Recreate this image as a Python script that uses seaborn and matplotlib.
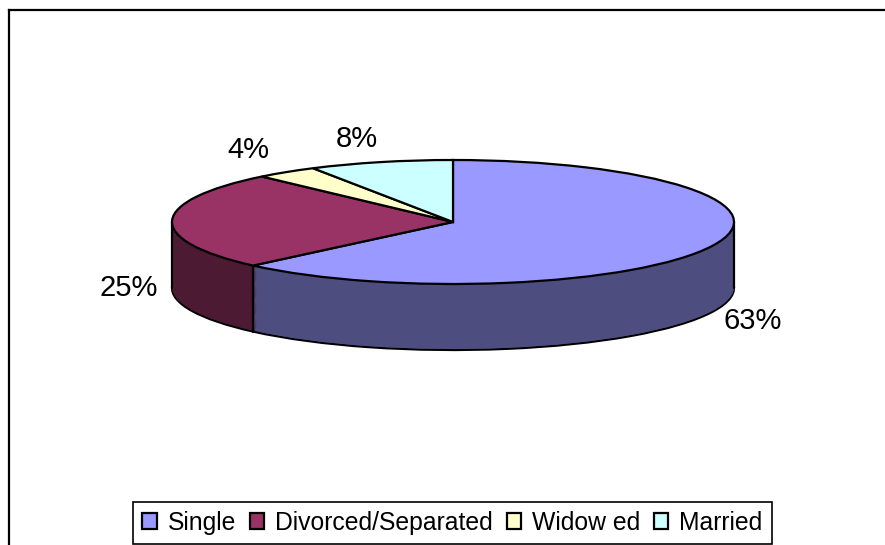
import numpy as np
import matplotlib
matplotlib.use("Agg")
import matplotlib.pyplot as plt
import seaborn as sns

categories = ["Single", "Divorced/Separated", "Widow ed", "Married"]
values = [62.6, 25.5, 3.6, 8.3]
pct_labels = ["63%", "25%", "4%", "8%"]
top_colors = ["#9999FF", "#993366", "#FFFFCC", "#CCFFFF"]
side_colors = ["#4D4D80", "#4D1A33", "#808066", "#668080"]

sns.set_theme(style="white")
plt.rcParams["font.family"] = ["Liberation Sans", "DejaVu Sans"]

W, H = 885, 545
fig = plt.figure(figsize=(W / 100, H / 100), dpi=100)
ax = fig.add_axes([9 / W, 0, (W - 9) / W, 535 / H])

# pie centre and radii in pixels, one data unit is one radius
cx, cy, rx, ry = 453, 222, 281, 62
depth = 66 / ry
n_layers = 70
edge = {"edgecolor": "black", "linewidth": 1.6}

# the wall is a stack of dark pies, only the lowest one has an outline
for i in range(n_layers):
    off = depth * (1 - i / n_layers)
    props = {"zorder": 1 + i * 0.01}
    props.update(edge if i == 0 else {"linewidth": 0})
    ax.pie(values, colors=side_colors, startangle=90, counterclock=False,
           center=(0, -off), wedgeprops=props, normalize=True)

wedges, _ = ax.pie(values, colors=top_colors, startangle=90, counterclock=False,
                   center=(0, 0), wedgeprops={"zorder": 3, **edge})

# vertical wall edges: both sides and the single/divorced split
split = np.deg2rad(90 - 360 * values[0] / sum(values))
for x0, y0 in [(-1, 0), (1, 0), (np.cos(split), np.sin(split))]:
    ax.plot([x0, x0], [y0, y0 - depth], color="black", lw=1.6, zorder=2.5)

ax.set_aspect("auto")
ax.set_xlim((9 - cx) / rx, (W - cx) / rx)
ax.set_ylim((cy - H) / ry, (cy - 10) / ry)
ax.set_frame_on(True)
sns.despine(ax=ax, top=False, right=True, left=False, bottom=True)
for s in ["left", "top"]:
    ax.spines[s].set_color("black")
    ax.spines[s].set_linewidth(1.6)

# label places in figure pixels
label_px = [(753, 321), (129, 288), (248, 150), (357, 139)]
for txt, (px, py) in zip(pct_labels, label_px):
    fig.text(px / W, 1 - py / H, txt, ha="center", va="center", fontsize=21, color="black")

leg = fig.legend(wedges, categories, ncol=4, loc="center",
                 bbox_to_anchor=(452.5 / W, 1 - 523 / H), fontsize=17.8,
                 labelcolor="black", fancybox=False, framealpha=1, edgecolor="black",
                 handlelength=0.58, handleheight=0.62, handletextpad=0.45,
                 columnspacing=0.55, borderpad=0.38, borderaxespad=0)
leg.get_frame().set_linewidth(1.2)

fig.savefig("out.png", dpi=100)
